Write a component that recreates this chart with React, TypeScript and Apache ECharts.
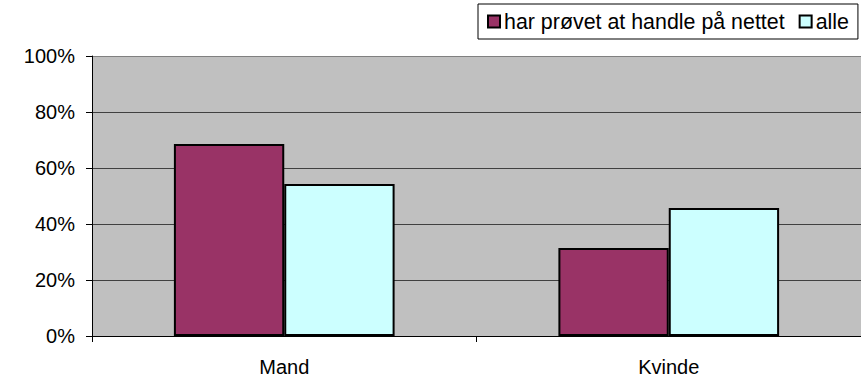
import React, { useEffect, useRef } from "react";
import * as echarts from "echarts";

const categories = ["Mand", "Kvinde"];
const harProevet = [68.6, 31.4];
const alle = [54.3, 45.7];
const seriesNames = ["har prøvet at handle på nettet", "alle"];

const FONT = "'Liberation Sans', Arial, sans-serif";

export default function App() {
  const ref = useRef<HTMLDivElement>(null);
  useEffect(() => {
    if (!ref.current) return;
    const chart = echarts.init(ref.current, undefined, { renderer: "svg" });
    chart.setOption({
      animation: false,
      backgroundColor: "#ffffff",
      textStyle: { fontFamily: FONT },
      legend: {
        left: 478,
        top: 4,
        orient: "horizontal",
        icon: "rect",
        itemWidth: 12,
        itemHeight: 12,
        itemGap: 14,
        padding: [7, 9, 7, 9],
        backgroundColor: "#ffffff",
        borderColor: "#000000",
        borderWidth: 1,
        borderRadius: 0,
        itemStyle: { borderColor: "#000000", borderWidth: 2 },
        textStyle: { fontSize: 21.4, fontFamily: FONT, color: "#000000", padding: [0, 0, 0, -1] },
        data: seriesNames,
      },
      grid: {
        left: 92,
        right: 0,
        top: 56,
        bottom: 42,
        show: true,
        backgroundColor: "#C0C0C0",
        borderWidth: 0,
      },
      xAxis: {
        type: "category",
        data: categories,
        axisLine: { lineStyle: { color: "#000000", width: 1 } },
        axisTick: { show: true, length: 6, lineStyle: { color: "#000000" } },
        axisLabel: { fontSize: 20, fontFamily: FONT, color: "#000000", margin: 21 },
      },
      yAxis: {
        type: "value",
        min: 0,
        max: 100,
        interval: 20,
        axisLine: { show: true, lineStyle: { color: "#000000", width: 1 } },
        axisTick: { show: true, length: 6, lineStyle: { color: "#000000" } },
        axisLabel: {
          formatter: "{value}%",
          fontSize: 20,
          fontFamily: FONT,
          color: "#000000",
          margin: 17,
        },
        splitLine: {
          show: true,
          lineStyle: {
            color: ["#404040", "#404040", "#404040", "#404040", "#404040", "#808080"],
            width: 1,
          },
        },
      },
      series: [
        {
          name: seriesNames[0],
          type: "bar",
          data: harProevet,
          barGap: "0%",
          barCategoryGap: "42.6%",
          itemStyle: { color: "#993366", borderColor: "#000000", borderWidth: 2 },
        },
        {
          name: seriesNames[1],
          type: "bar",
          data: alle,
          barGap: "0%",
          barCategoryGap: "42.6%",
          itemStyle: { color: "#CCFFFF", borderColor: "#000000", borderWidth: 2 },
        },
      ],
    });
    return () => chart.dispose();
  }, []);
  return (
    <div
      ref={ref}
      style={{ position: "fixed", left: 0, top: 0, width: 861, height: 378 }}
    />
  );
}
